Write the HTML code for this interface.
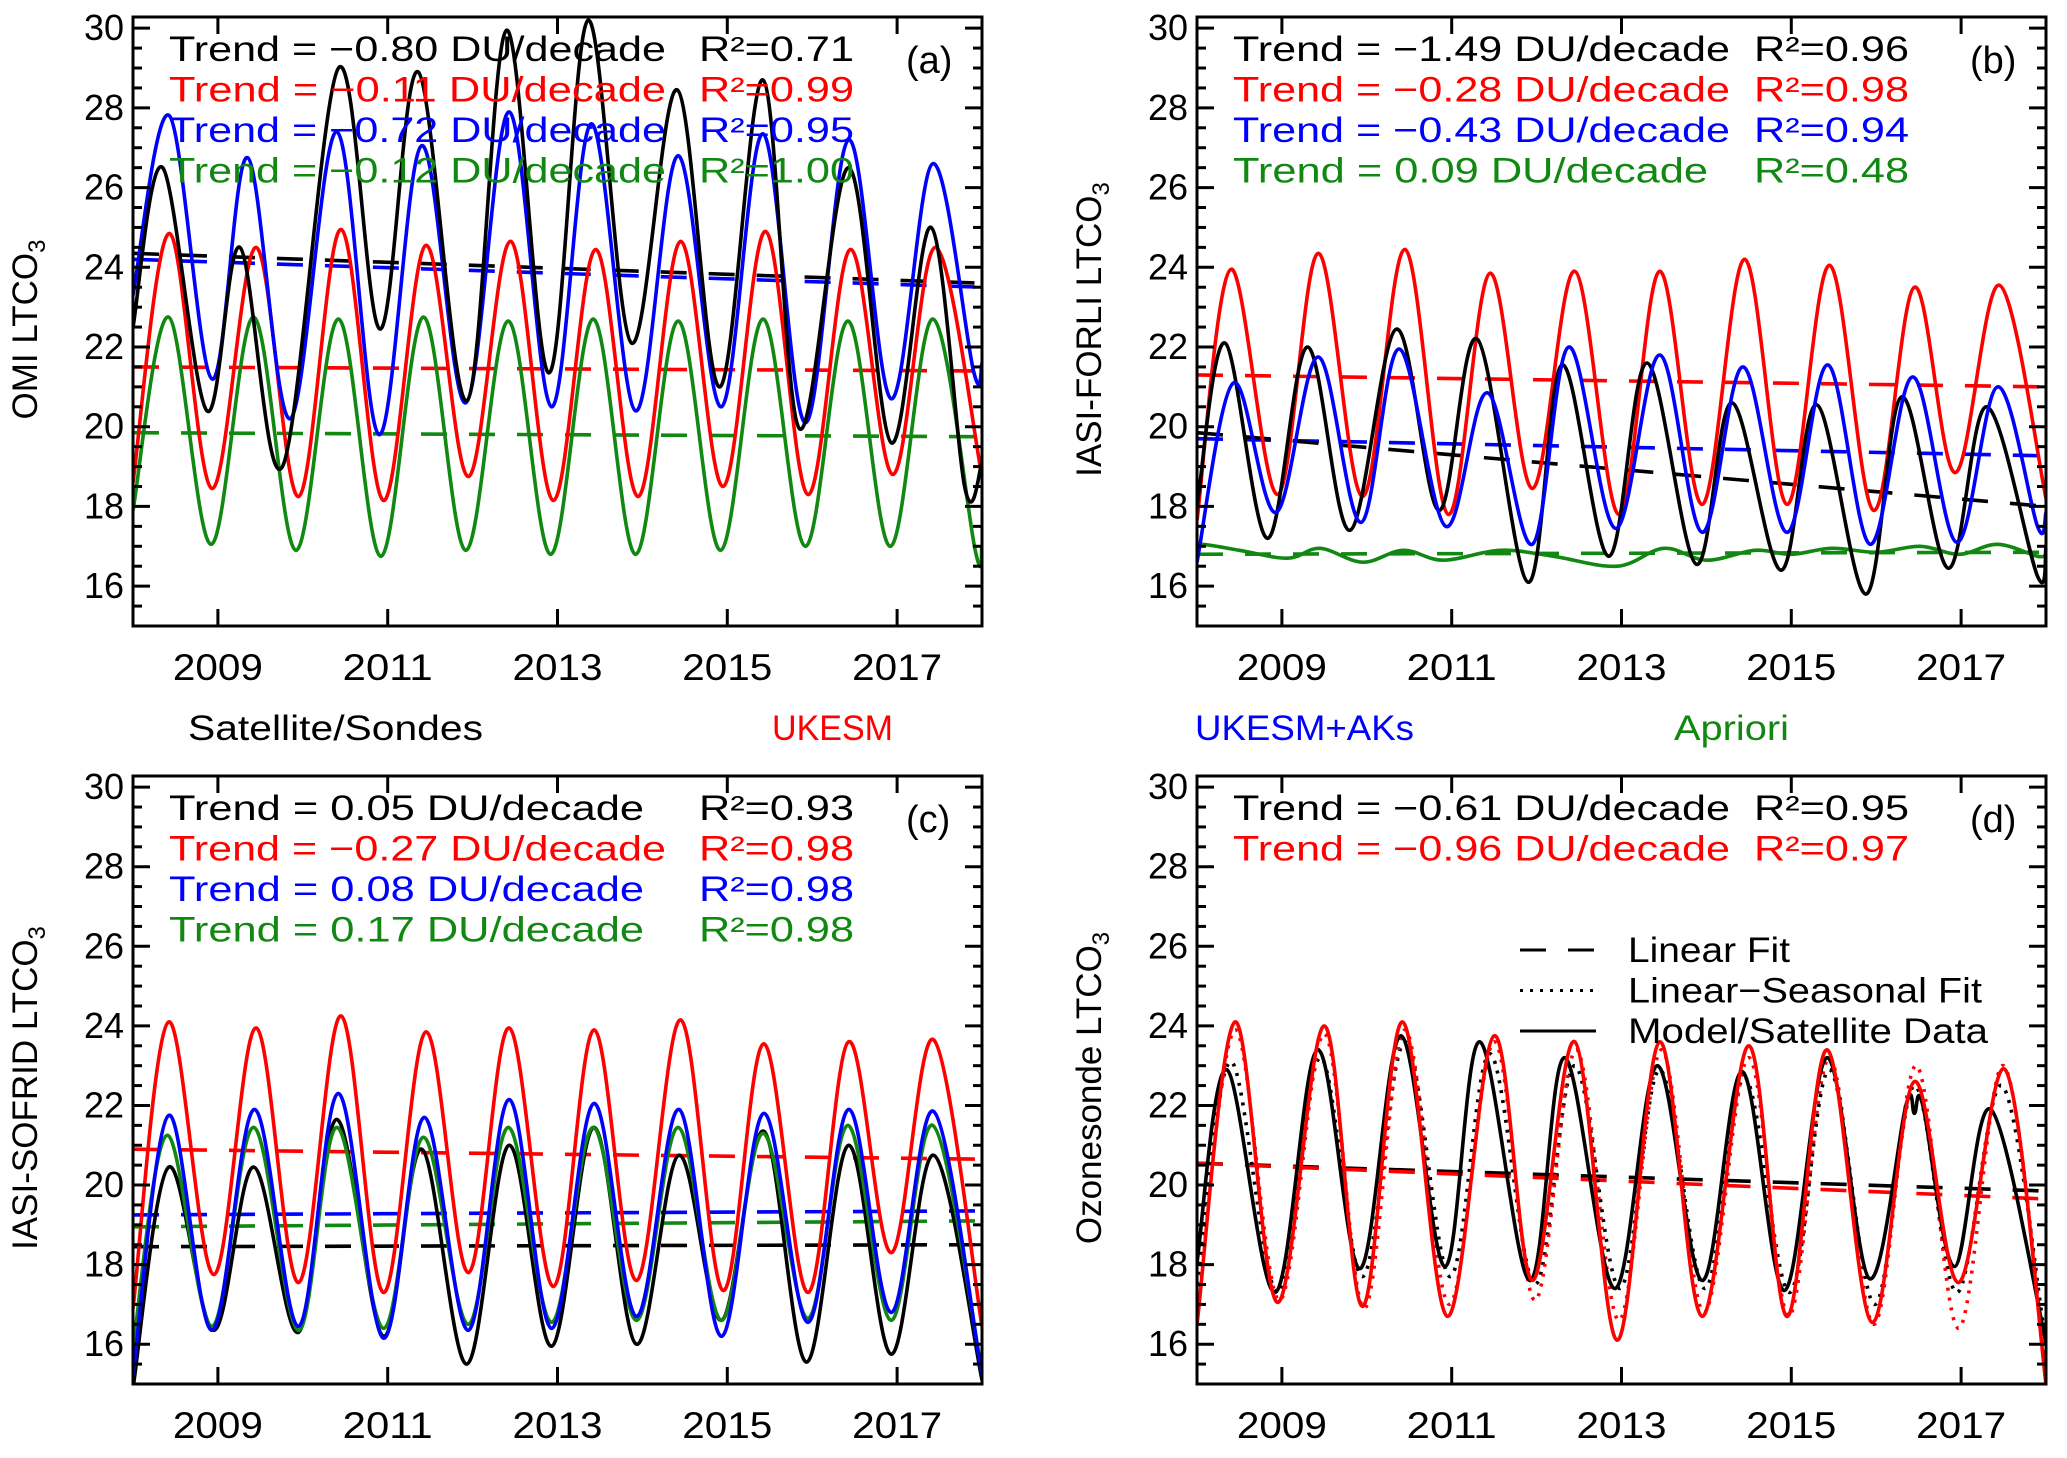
<!DOCTYPE html>
<html><head><meta charset="utf-8"><style>
html,body{margin:0;padding:0;background:#fff;}
svg{display:block;font-family:"Liberation Sans",sans-serif;}
</style></head><body>
<svg id="fig" width="2067" height="1458" viewBox="0 0 2067 1458" xmlns="http://www.w3.org/2000/svg"></svg>
<script>
// ---------- DATA (decimal year, DU) ----------
// Panel (a) OMI
const aBlackT = [2008.0,2008.35,2008.87,2009.26,2009.76,2010.42,2010.91,2011.36,2011.93,2012.4,2012.9,2013.36,2013.87,2014.41,2014.91,2015.42,2015.85,2016.43,2016.93,2017.4,2017.8,2018.0];
const aBlackV = [22.5,26.5,20.4,24.5,19.0,29.0,22.45,28.9,20.65,29.95,21.35,30.2,22.1,28.45,21.0,28.7,19.95,26.5,19.6,25.0,18.45,19.1];
const aBlueT = [2008.0,2008.43,2008.93,2009.35,2009.85,2010.4,2010.9,2011.4,2011.92,2012.43,2012.93,2013.4,2013.92,2014.42,2014.93,2015.42,2015.92,2016.43,2016.93,2017.42,2017.9,2018.0];
const aBlueV = [23.3,27.8,21.2,26.75,20.2,27.4,19.8,27.05,20.6,27.9,20.5,27.6,20.4,26.8,20.5,27.35,20.1,27.2,20.7,26.6,21.4,21.6];
const aRedT = [2008.0,2008.43,2008.93,2009.45,2009.95,2010.45,2010.95,2011.45,2011.95,2012.45,2012.95,2013.45,2013.95,2014.45,2014.95,2015.45,2015.95,2016.45,2016.95,2017.45,2018.0];
const aRedV = [18.6,24.85,18.45,24.5,18.25,24.95,18.15,24.55,18.75,24.65,18.15,24.45,18.25,24.65,18.5,24.9,18.3,24.45,18.8,24.5,18.75];
const aGreenT = [2008.0,2008.42,2008.92,2009.42,2009.92,2010.42,2010.92,2011.42,2011.92,2012.42,2012.92,2013.42,2013.92,2014.42,2014.92,2015.42,2015.92,2016.42,2016.92,2017.42,2017.92,2018.0];
const aGreenV = [17.9,22.75,17.05,22.75,16.9,22.7,16.75,22.75,16.9,22.65,16.8,22.7,16.8,22.65,16.9,22.7,17.0,22.65,17.0,22.7,16.9,17.0];
const aTrendStart = [24.35,21.5,24.2,19.85];   // black, red, blue, green
const aTrendEnd   = [23.6,21.4,23.5,19.75];
// Panel (b) IASI-FORLI
const bRedT = [2008.0,2008.4,2008.95,2009.43,2009.95,2010.45,2010.96,2011.45,2011.95,2012.45,2012.97,2013.45,2013.95,2014.45,2014.95,2015.45,2015.97,2016.45,2016.93,2017.45,2018.0];
const bRedV = [17.65,23.95,18.3,24.35,18.25,24.45,17.8,23.85,18.45,23.9,17.8,23.9,18.05,24.2,18.05,24.05,17.9,23.5,18.85,23.55,18.2];
const bBlackT = [2008.0,2008.33,2008.83,2009.3,2009.8,2010.35,2010.85,2011.3,2011.9,2012.3,2012.85,2013.3,2013.88,2014.3,2014.88,2015.3,2015.88,2016.3,2016.85,2017.3,2017.9,2018.0];
const bBlackV = [18.0,22.1,17.2,22.0,17.4,22.45,17.9,22.2,16.1,21.55,16.75,21.6,16.55,20.6,16.4,20.55,15.8,20.75,16.45,20.5,16.25,17.0];
const bBlueT = [2008.0,2008.43,2008.93,2009.43,2009.93,2010.38,2010.93,2011.42,2011.95,2012.38,2012.93,2013.45,2013.95,2014.43,2014.95,2015.43,2015.93,2016.43,2016.95,2017.43,2017.9,2018.0];
const bBlueV = [16.6,21.1,17.85,21.75,17.6,21.95,17.5,20.85,17.05,22.0,17.45,21.8,17.35,21.5,17.35,21.55,17.05,21.25,17.1,21.0,17.5,17.85];
const bGreenT = [2008.0,2008.05,2008.5,2009.07,2009.45,2009.95,2010.43,2010.9,2011.57,2012.2,2012.95,2013.5,2014.0,2014.57,2015.0,2015.48,2016.0,2016.52,2016.98,2017.43,2017.9,2018.0];
const bGreenV = [16.9,17.05,16.9,16.7,16.95,16.6,16.9,16.65,16.9,16.75,16.5,16.95,16.65,16.9,16.8,16.95,16.85,17.0,16.8,17.05,16.75,16.8];
const bTrendStart = [19.85,21.3,19.7,16.8];
const bTrendEnd   = [18.0,21.0,19.27,16.85];
// Panel (c) IASI-SOFRID
const cRedT = [2008.0,2008.42,2008.95,2009.45,2009.95,2010.45,2010.95,2011.45,2011.95,2012.43,2012.95,2013.43,2013.93,2014.45,2014.95,2015.43,2015.95,2016.43,2016.93,2017.43,2018.0];
const cRedV = [16.9,24.1,17.75,23.95,17.55,24.25,17.3,23.85,17.8,23.95,17.45,23.9,17.6,24.15,17.35,23.55,17.3,23.6,18.3,23.65,16.45];
const cBlueT = [2008.0,2008.42,2008.93,2009.43,2009.95,2010.42,2010.95,2011.43,2011.95,2012.43,2012.93,2013.43,2013.93,2014.43,2014.93,2015.43,2015.95,2016.43,2016.93,2017.43,2018.0];
const cBlueV = [15.2,21.75,16.35,21.9,16.45,22.3,16.15,21.7,16.35,22.15,16.4,22.05,16.7,21.9,16.2,21.8,16.55,21.9,16.8,21.85,15.2];
const cGreenT = [2008.0,2008.4,2008.93,2009.42,2009.95,2010.4,2010.95,2011.42,2011.95,2012.42,2012.93,2013.42,2013.93,2014.42,2014.93,2015.42,2015.95,2016.42,2016.93,2017.42,2018.0];
const cGreenV = [15.9,21.25,16.45,21.45,16.35,21.45,16.4,21.2,16.5,21.45,16.55,21.45,16.6,21.45,16.6,21.3,16.65,21.5,16.6,21.5,15.3];
const cBlackT = [2008.0,2008.42,2008.95,2009.42,2009.95,2010.4,2010.95,2011.4,2011.93,2012.43,2012.93,2013.43,2013.93,2014.43,2014.93,2015.43,2015.93,2016.43,2016.93,2017.43,2018.0];
const cBlackV = [14.9,20.45,16.35,20.45,16.3,21.65,16.2,20.9,15.5,21.0,15.95,21.45,16.0,20.75,16.6,21.35,15.55,21.0,15.75,20.75,15.1];
const cTrendStart = [18.45,20.9,19.25,18.95];
const cTrendEnd   = [18.5,20.65,19.35,19.1];
// Panel (d) Ozonesonde
const dBlackT = [2008.0,2008.35,2008.92,2009.42,2009.92,2010.4,2010.92,2011.33,2011.92,2012.33,2012.92,2013.42,2013.95,2014.42,2014.92,2015.42,2015.92,2016.35,2016.45,2016.55,2016.92,2017.35,2018.0];
const dBlackV = [18.05,22.9,17.3,23.4,17.9,23.75,17.95,23.6,17.6,23.2,17.4,23.0,17.6,22.85,17.35,23.2,17.65,22.0,21.8,22.0,17.95,21.9,16.05];
const dRedT = [2008.0,2008.45,2008.95,2009.5,2009.95,2010.42,2010.95,2011.5,2011.95,2012.45,2012.95,2013.45,2013.95,2014.5,2014.95,2015.42,2015.95,2016.45,2016.97,2017.52,2018.0];
const dRedV = [16.5,24.1,17.05,24.0,16.95,24.1,16.7,23.75,17.6,23.6,16.1,23.6,16.7,23.5,16.7,23.4,16.55,22.6,17.55,22.9,15.0];
const dBlackDotT = [2008.0,2008.4,2008.95,2009.45,2009.95,2010.45,2010.98,2011.45,2011.98,2012.45,2012.98,2013.45,2013.98,2014.45,2014.98,2015.45,2015.98,2016.45,2016.95,2017.48,2018.0];
const dBlackDotV = [17.5,23.1,17.3,23.2,17.7,23.6,17.7,23.3,17.5,23.0,17.4,22.9,17.4,22.7,17.3,22.9,17.0,22.5,17.3,22.5,16.0];
const dRedDotT = [2008.0,2008.45,2008.97,2009.5,2009.97,2010.45,2010.97,2011.5,2011.98,2012.47,2012.97,2013.47,2013.97,2014.5,2014.97,2015.45,2015.97,2016.47,2016.97,2017.5,2018.0];
const dRedDotV = [16.7,23.9,17.1,23.8,16.9,23.9,17.0,23.6,17.1,23.4,16.6,23.4,16.8,23.2,16.7,23.2,16.5,23.0,16.4,23.0,15.3];
const dTrendStart = [20.55,20.55];
const dTrendEnd   = [19.85,19.65];
const yTicks = [16,18,20,22,24,26,28,30];
const xTicks = [2009,2011,2013,2015,2017];

// ---------- DRAWING ----------
const NS = "http://www.w3.org/2000/svg";
const svg = document.getElementById('fig');
function mk(tag, attrs, parent){
  const e = document.createElementNS(NS, tag);
  for (const k in attrs) e.setAttribute(k, attrs[k]);
  (parent||svg).appendChild(e);
  return e;
}
const COL = {black:'#000', red:'#ff0000', blue:'#0000ff', green:'#118811'};
const XMIN=2008, XMAX=2018, YMIN=15, YMAX=30.28;

function makePanel(id, x0, y0, x1, y1){
  const g = mk('g', {});
  
  
  const sx = t => x0 + (t-XMIN)/(XMAX-XMIN)*(x1-x0);
  const sy = v => y1 - (v-YMIN)/(YMAX-YMIN)*(y1-y0);
  const cp = mk('clipPath', {id:'clip-'+id}, g);
  mk('rect', {x:x0, y:y0, width:x1-x0, height:y1-y0}, cp);
  const plot = mk('g', {'clip-path':'url(#clip-'+id+')'}, g);
  
  
  return {g, plot, sx, sy, x0, y0, x1, y1};
}
function curvePath(P, T, V){
  const pts = T.map((t,i)=>[P.sx(t), P.sy(V[i])]);
  let d = 'M'+pts[0][0].toFixed(1)+','+pts[0][1].toFixed(1);
  for (let i=0;i<pts.length-1;i++){
    const p0 = pts[Math.max(0,i-1)], p1 = pts[i], p2 = pts[i+1], p3 = pts[Math.min(pts.length-1,i+2)];
    const k = 0.17;
    const c1 = [p1[0]+(p2[0]-p0[0])*k, p1[1]+(p2[1]-p0[1])*k];
    const c2 = [p2[0]-(p3[0]-p1[0])*k, p2[1]-(p3[1]-p1[1])*k];
    d += ' C'+c1[0].toFixed(1)+','+c1[1].toFixed(1)+' '+c2[0].toFixed(1)+','+c2[1].toFixed(1)+' '+p2[0].toFixed(1)+','+p2[1].toFixed(1);
  }
  return d;
}
function series(P, T, V, color, name, dotted){
  const e = mk('path', {d:curvePath(P,T,V), fill:'none', stroke:color, 'stroke-width':3.6, 'stroke-linejoin':'round'}, P.plot);
  if (dotted) e.setAttribute('stroke-dasharray','3,7');
  
  
}
function trend(P, v0, v1, color, name){
  const e = mk('line', {x1:P.sx(XMIN), y1:P.sy(v0), x2:P.sx(XMAX), y2:P.sy(v1), stroke:color, 'stroke-width':3.6, 'stroke-dasharray':'26,22'}, P.plot);
  
  
}
function txt(parent, x, y, s, opts){
  const e = mk('text', Object.assign({x:x, y:y, 'font-size':35, fill:'#000'}, opts||{}), parent);
  e.textContent = s;
  return e;
}
function axes(P, id, title){
  const g = P.g;
  const fr = mk('rect', {x:P.x0, y:P.y0, width:P.x1-P.x0, height:P.y1-P.y0, fill:'none', stroke:'#000', 'stroke-width':3}, g);
  
  
  for (let v=15.5; v<=30.01; v+=0.5){
    const major = Math.abs(v/2-Math.round(v/2))<1e-6;
    const L = major?17:9, y = P.sy(v);
    mk('line', {x1:P.x0, y1:y, x2:P.x0+L, y2:y, stroke:'#000','stroke-width':3}, g);
    mk('line', {x1:P.x1, y1:y, x2:P.x1-L, y2:y, stroke:'#000','stroke-width':3}, g);
  }
  yTicks.forEach(v=>{
    const t = txt(g, P.x0-9, P.sy(v)+12, String(v), {'text-anchor':'end','font-size':36});
    
    
  });
  xTicks.forEach(yr=>{
    const x = P.sx(yr);
    mk('line', {x1:x, y1:P.y1, x2:x, y2:P.y1-17, stroke:'#000','stroke-width':3}, g);
    mk('line', {x1:x, y1:P.y0, x2:x, y2:P.y0+17, stroke:'#000','stroke-width':3}, g);
    const t = txt(g, x, P.y1+54, String(yr), {'text-anchor':'middle','font-size':37, textLength:90, lengthAdjust:'spacingAndGlyphs'});
    
    
  });
  const cx = P.x0-96, cy = (P.y0+P.y1)/2+8;
  const tt = mk('text', {x:cx, y:cy, 'font-size':35, 'text-anchor':'middle', transform:'rotate(-90 '+cx+' '+cy+')'}, g);
  tt.textContent = title;
  const sub = mk('tspan', {'font-size':24, dy:8}, tt);
  sub.textContent = '3';
  
  
}
function annot(P, id, lines, rx){
  lines.forEach((L,i)=>{
    const y = P.y0 + 44 + i*40.5;
    const s = 'Trend = '+L[0]+' DU/decade';
    const a = txt(P.g, P.x0+36, y, s, {fill:L[2], textLength:(s.length*21.6).toFixed(0), lengthAdjust:'spacingAndGlyphs'});
    
    
    const r = mk('text', {x:rx, y:y, 'font-size':35, fill:L[2], textLength:155, lengthAdjust:'spacingAndGlyphs'}, P.g);
    r.textContent = 'R²='+L[1];
    
    
  });
  const lab = txt(P.g, P.x1-76, P.y0+56, '('+id+')', {'font-size':38});
  
  
}

// Panel a
const A = makePanel('a', 133, 17, 982, 626);
trend(A, aTrendStart[1], aTrendEnd[1], COL.red, 'trend-line-red');
trend(A, aTrendStart[3], aTrendEnd[3], COL.green, 'trend-line-green');
trend(A, aTrendStart[2], aTrendEnd[2], COL.blue, 'trend-line-blue');
trend(A, aTrendStart[0], aTrendEnd[0], COL.black, 'trend-line-black');
series(A, aGreenT, aGreenV, COL.green, 'series-apriori');
series(A, aRedT, aRedV, COL.red, 'series-ukesm');
series(A, aBlueT, aBlueV, COL.blue, 'series-ukesm-aks');
series(A, aBlackT, aBlackV, COL.black, 'series-satellite');
axes(A, 'a', 'OMI LTCO');
annot(A, 'a', [['−0.80','0.71',COL.black],['−0.11','0.99',COL.red],['−0.72','0.95',COL.blue],['−0.12','1.00',COL.green]], 699);

// Panel b
const B = makePanel('b', 1197, 17, 2046, 626);
trend(B, bTrendStart[1], bTrendEnd[1], COL.red, 'trend-line-red');
trend(B, bTrendStart[3], bTrendEnd[3], COL.green, 'trend-line-green');
trend(B, bTrendStart[2], bTrendEnd[2], COL.blue, 'trend-line-blue');
trend(B, bTrendStart[0], bTrendEnd[0], COL.black, 'trend-line-black');
series(B, bGreenT, bGreenV, COL.green, 'series-apriori');
series(B, bRedT, bRedV, COL.red, 'series-ukesm');
series(B, bBlackT, bBlackV, COL.black, 'series-satellite');
series(B, bBlueT, bBlueV, COL.blue, 'series-ukesm-aks');
axes(B, 'b', 'IASI-FORLI LTCO');
annot(B, 'b', [['−1.49','0.96',COL.black],['−0.28','0.98',COL.red],['−0.43','0.94',COL.blue],['0.09','0.48',COL.green]], 1754);

// Panel c
const C = makePanel('c', 133, 776, 982, 1384);
trend(C, cTrendStart[1], cTrendEnd[1], COL.red, 'trend-line-red');
trend(C, cTrendStart[3], cTrendEnd[3], COL.green, 'trend-line-green');
trend(C, cTrendStart[2], cTrendEnd[2], COL.blue, 'trend-line-blue');
trend(C, cTrendStart[0], cTrendEnd[0], COL.black, 'trend-line-black');
series(C, cRedT, cRedV, COL.red, 'series-ukesm');
series(C, cBlackT, cBlackV, COL.black, 'series-satellite');
series(C, cGreenT, cGreenV, COL.green, 'series-apriori');
series(C, cBlueT, cBlueV, COL.blue, 'series-ukesm-aks');
axes(C, 'c', 'IASI-SOFRID LTCO');
annot(C, 'c', [['0.05','0.93',COL.black],['−0.27','0.98',COL.red],['0.08','0.98',COL.blue],['0.17','0.98',COL.green]], 699);

// Panel d
const D = makePanel('d', 1197, 776, 2046, 1384);
trend(D, dTrendStart[0], dTrendEnd[0], COL.black, 'trend-line-black');
trend(D, dTrendStart[1], dTrendEnd[1], COL.red, 'trend-line-red');
series(D, dBlackDotT, dBlackDotV, COL.black, 'seasonal-fit-sonde', true);
series(D, dRedDotT, dRedDotV, COL.red, 'seasonal-fit-ukesm', true);
series(D, dBlackT, dBlackV, COL.black, 'series-ozonesonde');
series(D, dRedT, dRedV, COL.red, 'series-ukesm');
axes(D, 'd', 'Ozonesonde LTCO');
annot(D, 'd', [['−0.61','0.95',COL.black],['−0.96','0.97',COL.red]], 1754);

// Panel d line-style legend
const lg = mk('g', {});


[['Linear Fit','26,22',162],['Linear−Seasonal Fit','3,7',354],['Model/Satellite Data','',360]].forEach((L,i)=>{
  const y = 950 + i*40.5;
  const ln = mk('line', {x1:1520, y1:y, x2:1596, y2:y, stroke:'#000', 'stroke-width':3, 'stroke-dasharray':L[1]||'none'}, lg);
  
  
  const t = txt(lg, 1628, y+12, L[0], {textLength:L[2], lengthAdjust:'spacingAndGlyphs'});
  
  
});

// Colour legend row
const cl = mk('g', {});


[['Satellite/Sondes',188,295,COL.black],['UKESM',772,121,COL.red],['UKESM+AKs',1195,219,COL.blue],['Apriori',1674,115,COL.green]].forEach(L=>{
  const t = txt(cl, L[1], 740, L[0], {fill:L[3], textLength:L[2], lengthAdjust:'spacingAndGlyphs'});
  
  
});
</script>
</body></html>
